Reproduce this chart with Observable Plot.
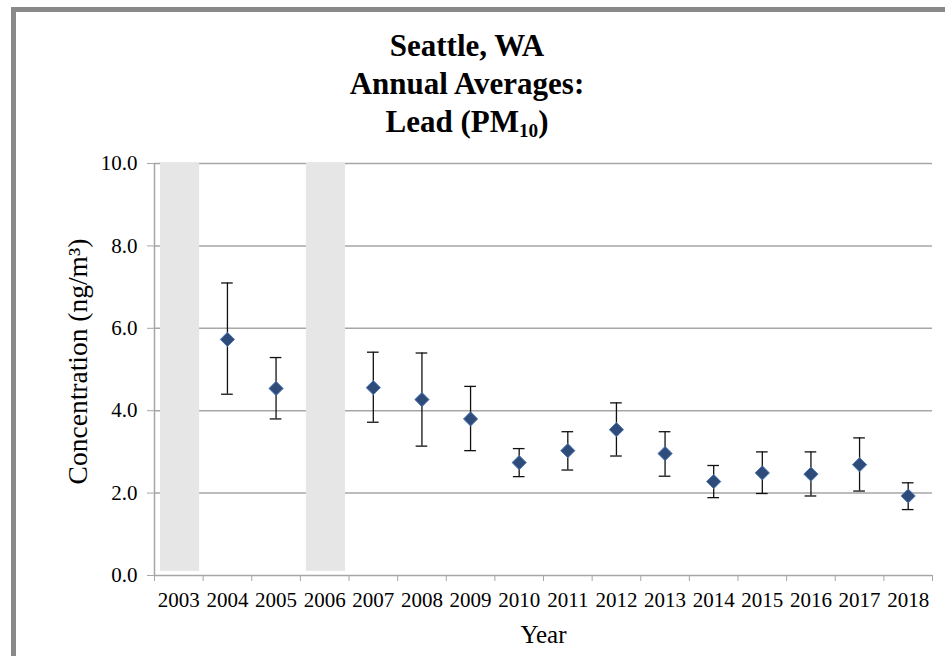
<!DOCTYPE html>
<html>
<head>
<meta charset="utf-8">
<script src="https://cdn.jsdelivr.net/npm/d3@7"></script>
<script src="https://cdn.jsdelivr.net/npm/@observablehq/plot@0.6"></script>
<style>
  html, body { margin: 0; padding: 0; background: #fff; }
  #wrap { position: relative; width: 945px; height: 656px; overflow: hidden; background: #fff; }
  #frame { position: absolute; left: 11px; top: 7px; width: 1000px; height: 647px;
           border-left: 5px solid #898989; border-top: 5px solid #898989; border-bottom: 1px solid #dcdcdc; }
  #title { position: absolute; left: 0; top: 27px; width: 934px; text-align: center;
           font-family: "Times New Roman", "Liberation Serif", "DejaVu Serif", serif; font-weight: 700;
           font-size: 31px; line-height: 38px; color: #000; }
  #title sub { font-size: 0.62em; vertical-align: -0.28em; line-height: 0; }
  #chart { position: absolute; left: 0; top: 0; }
</style>
</head>
<body>
<div id="wrap">
  <div id="frame"></div>
  <div id="chart"></div>
  <div id="title">Seattle, WA<br>Annual Averages:<br>Lead (PM<sub>10</sub>)</div>
</div>
<script>
// ---- data ----
const years = [2003, 2004, 2005, 2006, 2007, 2008, 2009, 2010, 2011, 2012, 2013, 2014, 2015, 2016, 2017, 2018];
const means = [null, 5.73, 4.54, null, 4.56, 4.27, 3.80, 2.74, 3.03, 3.54, 2.96, 2.28, 2.49, 2.46, 2.69, 1.93];
const upper = [null, 7.10, 5.29, null, 5.42, 5.40, 4.59, 3.08, 3.49, 4.19, 3.49, 2.67, 3.00, 3.00, 3.34, 2.25];
const lower = [null, 4.40, 3.80, null, 3.72, 3.14, 3.03, 2.40, 2.56, 2.90, 2.41, 1.89, 1.99, 1.93, 2.05, 1.60];
const noDataYears = [2003, 2006];
const noDataBottom = 0.1;
const yTicks = [0, 2, 4, 6, 8, 10];
const yLabel = "Concentration (ng/m³)";
const xLabel = "Year";

const serif = "'Times New Roman', 'Liberation Serif', 'DejaVu Serif', serif";
const rows = years.map((year, i) => ({year, mean: means[i], hi: upper[i], lo: lower[i]}))
  .filter(d => d.mean != null);
const gaps = noDataYears.map(year => ({year}));
const boundaries = [...years.map(y => y - 0.5), years[years.length - 1] + 0.5];
const capHalf = 0.12;
const grey = "#a6a6a6";

const chart = Plot.plot({
  width: 945,
  height: 656,
  marginLeft: 154,
  marginRight: 13,
  marginTop: 163,
  marginBottom: 81,
  style: {fontFamily: serif, fontSize: "21px", color: "#000", background: "transparent", overflow: "visible"},
  x: {type: "linear", domain: [boundaries[0], boundaries[boundaries.length - 1]]},
  y: {domain: [0, 10]},
  marks: [
    Plot.ruleY(yTicks.filter(t => t > 0), {stroke: grey, strokeWidth: 1.5}),
    Plot.rectY(gaps, {x1: d => d.year - 0.5, x2: d => d.year + 0.5, y1: noDataBottom, y2: 10, fill: "#e6e6e6", insetLeft: 6, insetRight: 3.5}),
    Plot.ruleY([0], {stroke: grey, strokeWidth: 1.5}),
    Plot.ruleX([boundaries[0]], {y1: 0, y2: 10, stroke: grey, strokeWidth: 1.5}),
    Plot.axisY({ticks: yTicks, tickSize: 7, tickPadding: 10, tickFormat: d => d.toFixed(1), stroke: grey, fill: "#000", label: null}),
    Plot.axisX({ticks: boundaries, tickSize: 6, tickFormat: () => "", stroke: grey, label: null}),
    Plot.axisX({ticks: years, tickSize: 0, tickPadding: 17, tickFormat: d => String(d), fill: "#000", label: null}),
    Plot.ruleX(rows, {x: "year", y1: "lo", y2: "hi", stroke: "#111", strokeWidth: 1.3}),
    Plot.ruleY(rows, {x1: d => d.year - capHalf, x2: d => d.year + capHalf, y: "hi", stroke: "#111", strokeWidth: 1.3}),
    Plot.ruleY(rows, {x1: d => d.year - capHalf, x2: d => d.year + capHalf, y: "lo", stroke: "#111", strokeWidth: 1.3}),
    Plot.dot(rows, {x: "year", y: "mean", symbol: "diamond2", r: 6.4, fill: "#2f4b7a", stroke: "#4a78b5", strokeWidth: 1}),
    Plot.text([yLabel], {text: d => d, frameAnchor: "left", dx: -76, dy: -8, rotate: -90, textAnchor: "middle", lineAnchor: "middle", fontFamily: serif, fontSize: 27.5, fill: "#000"}),
    Plot.text([xLabel], {text: d => d, frameAnchor: "bottom", dy: 59, textAnchor: "middle", lineAnchor: "middle", fontFamily: serif, fontSize: 25, fill: "#000"})
  ]
});
document.getElementById("chart").appendChild(chart);
</script>
</body>
</html>
